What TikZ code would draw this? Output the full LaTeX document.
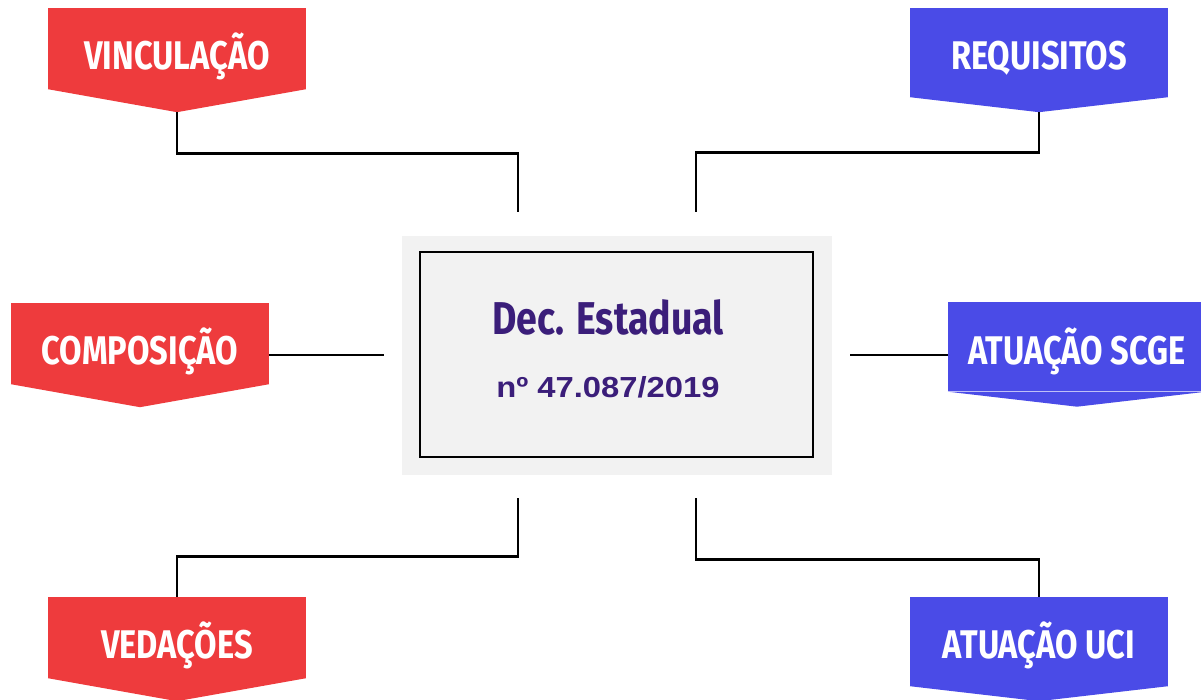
\documentclass[tikz,border=0pt]{standalone}
\usepackage{fontspec}
\newfontfamily\bannerfont{Fira Sans}[FakeStretch=0.815]
\newfontfamily\numfont{Liberation Sans}[FakeStretch=1.13]

\definecolor{bannerred}{RGB}{238,59,61}
\definecolor{bannerblue}{RGB}{74,75,231}
\definecolor{decpurple}{RGB}{59,30,122}
\definecolor{boxgray}{RGB}{242,242,242}

\tikzset{
  banner/.style={minimum width=258, inner sep=0, text=white, text depth=0,
    font=\bannerfont\bfseries\fontsize{40}{40}\selectfont},
  redbanner/.style={banner, fill=bannerred, minimum height=81, text height=43},
  bluebanner/.style={banner, fill=bannerblue, minimum height=89, text height=35},
  link/.style={line width=2.8, black},
}

\begin{document}
\begin{tikzpicture}[x=1pt,y=1pt]
	   \useasboundingbox (0,0) rectangle (1201,700);
	   % central box
	   \fill[boxgray] (402,225) rectangle (832,464);
	   \node[draw=black, line width=2.8, fill=boxgray, minimum width=393, minimum height=205, inner sep=0] (dec) at (616.5,345.5) {};
	   \node[anchor=base, text=decpurple, font=\bannerfont\bfseries\fontsize{46}{46}\selectfont] (dec title) at (608,365) {Dec. Estadual};
	   \node[anchor=base, text=decpurple, font=\numfont\bfseries\fontsize{29}{29}\selectfont] (dec num) at (608,302) {nº 47.087/2019};
	   % red banners
	   \node[redbanner] (vinc) at (177,651.5) {VINCULAÇÃO};
	   \coordinate (vinc tip) at ([yshift=-23]vinc.south);
	   \fill[bannerred] (vinc.south west) -- (vinc.south east) -- (vinc tip) -- cycle;
	   \node[redbanner] (comp) at (140,356.5) {COMPOSIÇÃO};
	   \coordinate (comp tip) at ([yshift=-23]comp.south);
	   \fill[bannerred] (comp.south west) -- (comp.south east) -- (comp tip) -- cycle;
	   \node[redbanner] (ved) at (177,62.5) {VEDAÇÕES};
	   \coordinate (ved tip) at ([yshift=-23]ved.south);
	   \fill[bannerred] (ved.south west) -- (ved.south east) -- (ved tip) -- cycle;
	   % blue banners
	   \node[bluebanner] (req) at (1039,647.5) {REQUISITOS};
	   \coordinate (req tip) at ([yshift=-15]req.south);
	   \fill[bannerblue] (req.south west) -- (req.south east) -- (req tip) -- cycle;
	   \node[bluebanner] (scge) at (1077,353) {ATUAÇÃO SCGE};
	   \coordinate (scge tip) at ([yshift=-15]scge.south);
	   \fill[bannerblue] (scge.south west) -- (scge.south east) -- (scge tip) -- cycle;
	   \node[bluebanner] (uci) at (1039,58.5) {ATUAÇÃO UCI};
	   \coordinate (uci tip) at ([yshift=-15]uci.south);
	   \fill[bannerblue] (uci.south west) -- (uci.south east) -- (uci tip) -- cycle;
	   % connectors
	   \coordinate (vinc end) at (518,488);
	   \coordinate (req end) at (696,488);
	   \coordinate (comp end) at (384,345);
	   \coordinate (scge end) at (850,345);
	   \coordinate (ved end) at (518,202);
	   \coordinate (uci end) at (696,202);
	   \draw[link] (vinc tip) -- ++(0,-41) -| (vinc end);
	   \draw[link] (req tip) -- ++(0,-40) -| (req end);
	   \draw[link] (comp.east |- comp end) -- (comp end);
	   \draw[link] (scge end) -- (scge.west |- scge end);
	   \draw[link] (ved.north) -- ++(0,40) -| (ved end);
	   \draw[link] (uci.north) -- ++(0,37) -| (uci end);
 \end{tikzpicture}
\end{document}
